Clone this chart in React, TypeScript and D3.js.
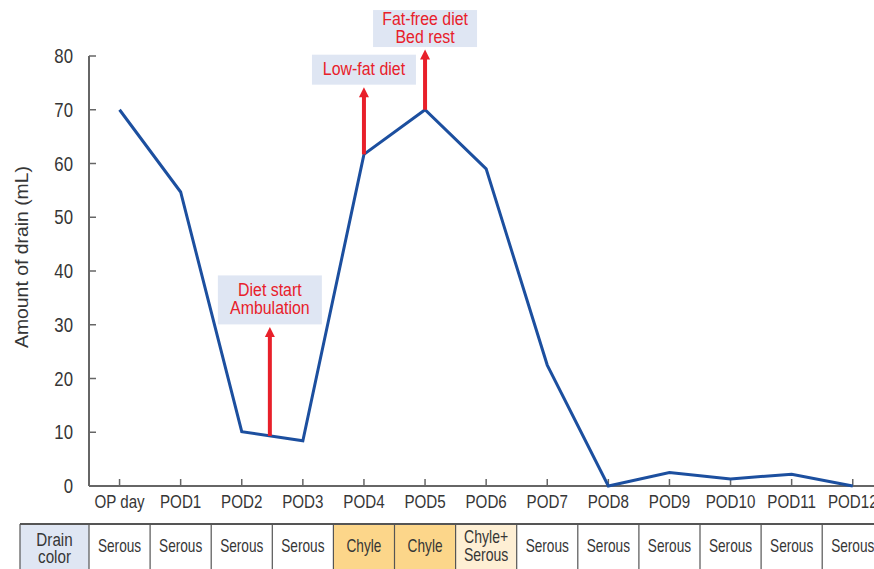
import * as d3 from "d3";

const days = ["OP day", "POD1", "POD2", "POD3", "POD4", "POD5", "POD6", "POD7", "POD8", "POD9", "POD10", "POD11", "POD12"];
const drain = [70, 54.7, 10.1, 8.4, 61.7, 70, 59, 22.5, 0, 2.5, 1.3, 2.2, 0];
const drainColor = ["Serous", "Serous", "Serous", "Serous", "Chyle", "Chyle", "Chyle+\nSerous", "Serous", "Serous", "Serous", "Serous", "Serous", "Serous"];
const yTicks = [0, 10, 20, 30, 40, 50, 60, 70, 80];

// events: position on day axis (fractional index), top of arrow (mL), label lines
const eventAt = [2.46, 4, 5];
const eventTop = [29.6, 74.2, 81.2];
const eventLabel = [["Diet start", "Ambulation"], ["Low-fat diet"], ["Fat-free diet", "Bed rest"]];
const eventBoxH = [49, 30, 37];

const cellFill: Record<string, string> = {
  Serous: "#ffffff",
  Chyle: "#fcd68a",
  "Chyle+\nSerous": "#feefd4",
};

const W = 874;
const H = 569;
const FONT = "'Liberation Sans', Arial, sans-serif";
const TXT = "#363636";
const AXIS = "#666";

// no condensed face installed, so squeeze the regular one horizontally
type TProps = { x: number; y: number; size: number; sx?: number; anchor?: string; fill?: string; children: string };
const T = ({ x, y, size, sx = 0.8, anchor = "middle", fill = TXT, children }: TProps) => (
  <text transform={`translate(${x},${y}) scale(${sx},1)`} textAnchor={anchor} fontSize={size} fill={fill}>
    {children}
  </text>
);

const App = () => {
  const x = d3.scaleBand<string>().domain(days).range([89, 89 + 13 * 61.1]);
  const bw = x.bandwidth();
  const cx = (d: string) => (x(d) as number) + bw / 2;
  const xi = (i: number) => x.range()[0] + bw / 2 + i * bw;
  const y = d3.scaleLinear().domain([0, 80]).range([486, 56]);

  const line = d3
    .line<number>()
    .x((_d, i) => xi(i))
    .y(d => y(d));

  const valueAt = (f: number) => {
    const i = Math.floor(f);
    const t = f - i;
    return t === 0 ? drain[i] : drain[i] + t * (drain[i + 1] - drain[i]);
  };

  const tableTop = 524;
  const tableBottom = 572;

  return (
    <svg width={W} height={H} style={{ position: "absolute", left: 0, top: 0, background: "#fff" }} fontFamily={FONT}>
      {/* y axis */}
      <line x1={89} x2={89} y1={y(80)} y2={y(0)} stroke={AXIS} strokeWidth={2} />
      {yTicks.map(t => (
        <g key={t}>
          <line x1={89} x2={96} y1={y(t)} y2={y(t)} stroke={AXIS} strokeWidth={1.5} />
          <T x={73} y={y(t) + 7} size={19.5} sx={0.86} anchor="end">
            {String(t)}
          </T>
        </g>
      ))}
      <text
        transform={`translate(28, 257) rotate(-90)`}
        textAnchor="middle"
        fontSize={18}
        fill={TXT}
        textLength={182}
        lengthAdjust="spacingAndGlyphs"
      >
        Amount of drain (mL)
      </text>

      {/* x axis */}
      <line x1={89} x2={W} y1={y(0)} y2={y(0)} stroke={AXIS} strokeWidth={2} />
      {days.map(d => (
        <g key={d}>
          <line x1={cx(d)} x2={cx(d)} y1={y(0)} y2={y(0) - 7} stroke={AXIS} strokeWidth={1.5} />
          <T x={cx(d)} y={508} size={18.5} sx={0.82}>
            {d}
          </T>
        </g>
      ))}

      {/* drain line */}
      <path d={line(drain) as string} fill="none" stroke="#1c4f9f" strokeWidth={3} strokeLinejoin="miter" />

      {/* events */}
      {eventAt.map((f, k) => {
        const ax = xi(f);
        const y0 = y(valueAt(f));
        const yTip = y(eventTop[k]);
        const boxH = eventBoxH[k];
        const boxBottom = yTip - 2.5;
        const boxTop = boxBottom - boxH;
        const lines = eventLabel[k];
        const first = boxTop + (boxH - lines.length * 17.7) / 2 + 14;
        return (
          <g key={k}>
            <rect x={ax - 52} y={boxTop} width={104} height={boxH} fill="#dfe6f3" />
            {lines.map((s, j) => (
              <T key={j} x={ax} y={first + j * 17.7} size={18.5} sx={0.86} fill="#e8202a">
                {s}
              </T>
            ))}
            <line x1={ax} x2={ax} y1={y0} y2={yTip + 9} stroke="#e8202a" strokeWidth={4} />
            <path d={`M${ax - 5},${yTip + 10}L${ax},${yTip}L${ax + 5},${yTip + 10}Z`} fill="#e8202a" />
          </g>
        );
      })}

      {/* drain colour table */}
      <rect x={20} y={tableTop} width={69} height={tableBottom - tableTop} fill="#dfe6f3" />
      {days.map((d, i) => (
        <rect key={d} x={x(d)} y={tableTop} width={bw} height={tableBottom - tableTop} fill={cellFill[drainColor[i]]} />
      ))}
      <line x1={20} x2={W} y1={tableTop} y2={tableTop} stroke="#555" strokeWidth={2} />
      {[20, ...days.map(d => x(d) as number)].map((v, i) => (
        <line key={i} x1={v} x2={v} y1={tableTop} y2={tableBottom} stroke="#555" strokeWidth={1.2} />
      ))}
      <T x={54.5} y={546} size={19} sx={0.8}>
        Drain
      </T>
      <T x={54.5} y={563} size={19} sx={0.8}>
        color
      </T>
      {days.map((d, i) => {
        const parts = drainColor[i].split("\n");
        return parts.map((p, j) => (
          <T key={d + j} x={cx(d)} y={parts.length === 1 ? 552 : 543 + j * 18} size={parts.length === 1 ? 17.5 : 18} sx={0.78}>
            {p}
          </T>
        ));
      })}
    </svg>
  );
};

export default App;
